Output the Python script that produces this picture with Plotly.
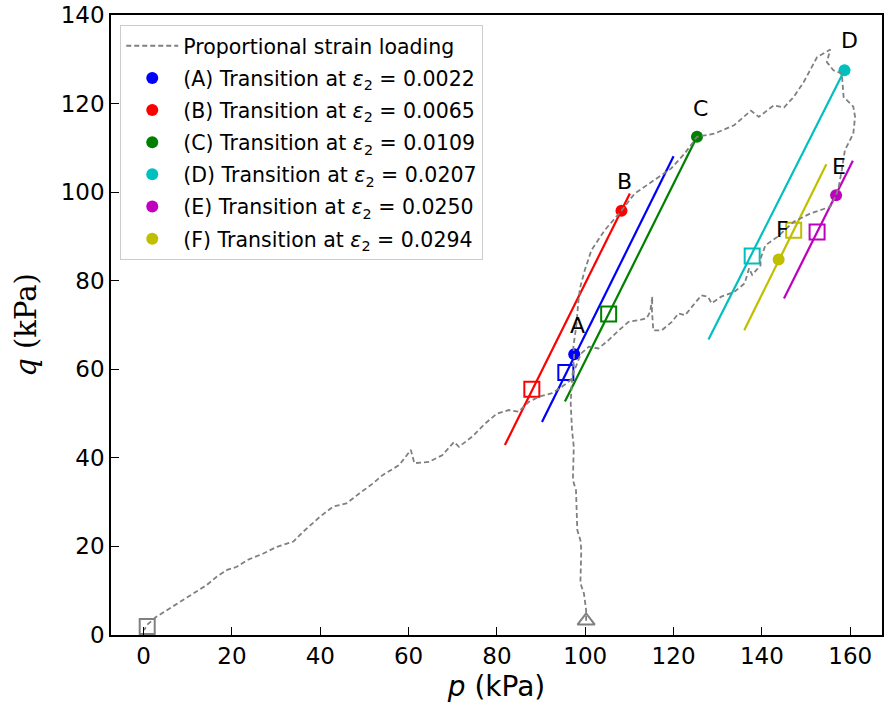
import plotly.graph_objects as go

# Proportional strain loading path (p, q) in kPa
path_p = [100.2, 100.2, 99.7, 98.9, 99.1, 98.9, 98.2, 97.9, 97.2, 97.4, 97.0, 96.7, 96.9, 97.2, 97.5,
          97.3, 98.0, 98.4, 98.8, 99.9, 101.4, 104.4, 108.2, 111.2, 114.9, 119.4, 122.5, 125.3,
          129.2, 133.7, 137.5, 139.3, 142.7, 145.0, 147.2, 149.5, 152.5, 155.5, 154.7, 156.2,
          158.1, 158.5, 160.7, 161.1, 160.7, 158.8, 158.1, 157.4, 156.8, 155.5, 151.0, 147.2,
          143.5, 140.8, 139.7, 139.7, 137.8, 137.1, 136.1, 133.8, 130.8, 128.6, 127.8, 126.3,
          124.8, 122.6, 121.1, 119.6, 117.3, 115.4, 115.1, 115.2, 114.7, 113.9, 112.1, 109.8,
          107.6, 105.3, 103.0, 100.8, 99.0, 96.7, 94.8, 92.5, 89.5, 87.3, 84.9, 82.7, 80.0,
          77.4, 74.4, 71.4, 70.3, 67.6, 64.6, 61.3, 60.5, 57.9, 54.1, 51.9, 48.9, 45.9, 42.9,
          39.9, 36.1, 33.9, 30.1, 27.1, 23.4, 21.1, 18.9, 16.6, 14.3, 11.3, 8.3, 5.3, 2.7, 0.8, 0.1]
path_q = [3.2, 5.6, 9.4, 11.7, 19.2, 21.4, 23.7, 32.7, 35.0, 42.5, 46.3, 52.3, 56.1, 60.0, 63.4,
          65.1, 70.0, 74.9, 78.3, 82.4, 86.9, 91.4, 95.8, 99.7, 102.3, 105.3, 108.7, 112.5,
          113.2, 115.1, 118.4, 117.0, 119.6, 119.1, 121.5, 124.9, 130.5, 132.2, 129.4, 127.5,
          126.8, 121.5, 119.3, 117.0, 113.2, 109.5, 105.0, 101.2, 99.3, 96.7, 95.2, 93.3,
          89.9, 88.0, 85.0, 83.5, 81.3, 82.8, 79.4, 77.5, 76.4, 74.9, 76.4, 76.7,
          74.9, 72.2, 72.6, 70.7, 68.8, 68.8, 73.4, 76.4, 73.0, 71.5, 71.1, 70.7,
          68.8, 66.6, 64.7, 65.1, 63.5, 57.6, 56.1, 54.6, 53.8, 52.7, 50.4, 50.8, 50.0,
          47.8, 44.8, 42.5, 43.6, 40.6, 39.1, 38.8, 41.8, 38.4, 36.1, 34.2, 32.0, 29.7, 29.0,
          26.7, 23.3, 21.1, 19.9, 18.4, 16.9, 15.4, 14.7, 13.2, 11.3, 9.4, 7.5, 5.6, 4.0, 2.3, 1.1]

path_start = (100.2, 3.2)   # triangle
path_end = (0.8, 1.9)       # square

labels = ["A", "B", "C", "D", "E", "F"]
eps_values = ["0.0022", "0.0065", "0.0109", "0.0207", "0.0250", "0.0294"]
colors = ["#0000ff", "#ff0000", "#008000", "#00bfbf", "#bf00bf", "#bfbf00"]
trans_p = [97.5, 108.2, 125.3, 158.7, 156.8, 143.8]
trans_q = [63.4, 95.8, 112.5, 127.5, 99.3, 84.8]
square_p = [95.6, 87.9, 105.3, 137.8, 152.5, 147.2]
square_q = [59.3, 55.5, 72.5, 85.6, 91.0, 91.4]
line_p0 = [90.2, 81.8, 95.4, 127.9, 145.0, 136.0]
line_q0 = [48.1, 42.9, 52.7, 66.7, 76.0, 68.8]
line_p1 = [120.0, 110.1, 125.3, 158.7, 160.6, 154.6]
line_q1 = [108.1, 99.7, 112.5, 127.5, 107.1, 106.3]
label_p = [98.3, 108.8, 126.1, 159.9, 157.5, 144.6]
label_q = [70.0, 102.3, 118.9, 134.2, 105.9, 91.6]

x_ticks = [0, 20, 40, 60, 80, 100, 120, 140, 160]
y_ticks = [0, 20, 40, 60, 80, 100, 120, 140]

fig = go.Figure()

for i in range(6):
    fig.add_trace(go.Scatter(x=[line_p0[i], line_p1[i]], y=[line_q0[i], line_q1[i]], mode="lines",
                             line=dict(color=colors[i], width=2.2), showlegend=False, hoverinfo="skip"))
for i in range(6):
    fig.add_trace(go.Scatter(x=[square_p[i]], y=[square_q[i]], mode="markers",
                             marker=dict(symbol="square-open", size=15, color=colors[i],
                                         line=dict(width=2, color=colors[i])),
                             showlegend=False))
for i in range(6):
    fig.add_trace(go.Scatter(x=[trans_p[i]], y=[trans_q[i]], mode="markers",
                             marker=dict(symbol="circle", size=12, color=colors[i]),
                             name=f"({labels[i]}) Transition at <i>ε</i><sub>2</sub> = {eps_values[i]}",
                             legendgroup=f"g{i + 1}", legendrank=10 + i))

fig.add_trace(go.Scatter(x=path_p, y=path_q, mode="lines",
                         line=dict(color="#808080", width=1.8, dash="5px,3px"),
                         name="Proportional strain loading", legendgroup="g0", legendrank=1))
fig.add_trace(go.Scatter(x=[path_start[0]], y=[path_start[1]], mode="markers",
                         marker=dict(symbol="triangle-up-open", size=15, color="#808080",
                                     line=dict(width=2, color="#808080")), showlegend=False))
fig.add_trace(go.Scatter(x=[path_end[0]], y=[path_end[1]], mode="markers",
                         marker=dict(symbol="square-open", size=15, color="#808080",
                                     line=dict(width=2, color="#808080")), showlegend=False))

for i in range(6):
    fig.add_annotation(x=label_p[i], y=label_q[i], text=labels[i], showarrow=False,
                       font=dict(size=22, color="black", family="DejaVu Sans"))

axis_common = dict(showline=True, linecolor="black", linewidth=1.6, mirror=True,
                   ticks="inside", ticklen=8, tickwidth=1.3, tickcolor="black",
                   showgrid=False, zeroline=False,
                   tickfont=dict(family="DejaVu Sans", size=23, color="black"))

fig.update_layout(
    width=885, height=711,
    margin=dict(l=111, r=1, t=15, b=76),
    plot_bgcolor="white", paper_bgcolor="white",
    xaxis=dict(range=[-7.4, 167.2], tickvals=x_ticks,
               title=dict(text="<i>p</i> (kPa)", font=dict(family="DejaVu Sans", size=28, color="black"),
                          standoff=8),
               **axis_common),
    yaxis=dict(range=[0, 140], tickvals=y_ticks,
               title=dict(text="<i>q</i> (kPa)", font=dict(family="DejaVu Serif", size=29, color="black"),
                          standoff=16),
               **axis_common),
    legend=dict(x=0.012, y=0.984, xanchor="left", yanchor="top",
                bgcolor="white", bordercolor="#cccccc", borderwidth=1,
                itemwidth=52, tracegroupgap=2.5, traceorder="grouped",
                font=dict(family="DejaVu Sans", size=20.5, color="black")),
    showlegend=True,
)

fig.write_html("out.html")
